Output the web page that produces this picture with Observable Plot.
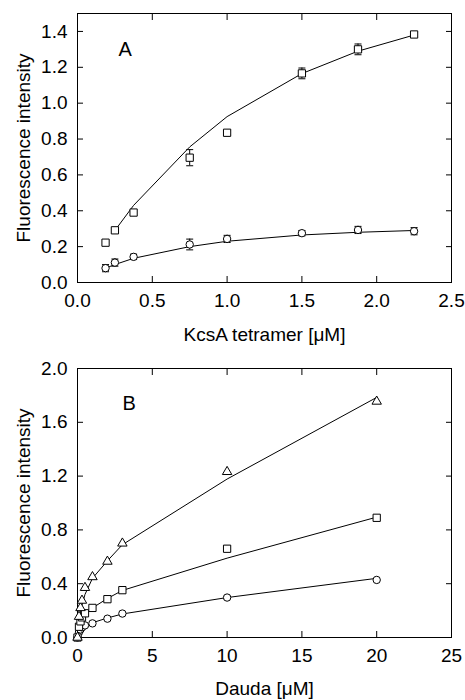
<!DOCTYPE html>
<html><head><meta charset="utf-8">
<script src="https://cdn.jsdelivr.net/npm/d3@7"></script>
<script src="https://cdn.jsdelivr.net/npm/@observablehq/plot@0.6"></script>
<style>body{margin:0;background:#fff;} svg{display:block}</style>
</head><body><div id="chart"></div>
<script>
// ---------- Panel A data ----------
const xA = [0.1875, 0.25, 0.375, 0.75, 1.0, 1.5, 1.875, 2.25];
const squaresA = [0.222, 0.291, 0.39, 0.696, 0.835, 1.166, 1.30, 1.383];
const squaresAErr = [0.0, 0.0, 0.0, 0.045, 0.012, 0.03, 0.03, 0.01];
const circlesA = [0.08, 0.111, 0.143, 0.212, 0.243, 0.275, 0.293, 0.286];
const circlesAErr = [0.02, 0.02, 0.015, 0.03, 0.02, 0.015, 0.02, 0.02];
const fitXSquaresA = [0.25, 0.375, 0.75, 1.0, 1.5, 1.875, 2.25];
const fitSquaresA = [0.29, 0.43, 0.756, 0.925, 1.165, 1.29, 1.38];
const fitCirclesA = [0.08, 0.10, 0.135, 0.20, 0.23, 0.265, 0.28, 0.29];
const xTicksA = [0, 0.5, 1.0, 1.5, 2.0, 2.5];
const yTicksA = [0, 0.2, 0.4, 0.6, 0.8, 1.0, 1.2, 1.4];

// ---------- Panel B data ----------
const xB = [0, 0.1, 0.2, 0.3, 0.5, 1, 2, 3, 10, 20];
const trianglesB = [0.0, 0.155, 0.22, 0.275, 0.37, 0.45, 0.565, 0.70, 1.232, 1.755];
const squaresB = [0.0, 0.08, 0.12, 0.15, 0.18, 0.22, 0.285, 0.352, 0.66, 0.89];
const squaresBErr = [0, 0, 0, 0, 0, 0, 0, 0, 0.02, 0];
const circlesB = [0.0, 0.04, 0.06, 0.075, 0.09, 0.105, 0.14, 0.178, 0.297, 0.428];
const circlesBErr = [0, 0, 0, 0, 0, 0, 0, 0, 0.01, 0];
const fitTrianglesB = [0.0, 0.12, 0.19, 0.24, 0.32, 0.44, 0.57, 0.69, 1.178, 1.785];
const fitSquaresB = [0.0, 0.07, 0.10, 0.13, 0.17, 0.22, 0.29, 0.35, 0.59, 0.895];
const fitCirclesB = [0.0, 0.03, 0.05, 0.065, 0.085, 0.11, 0.145, 0.175, 0.297, 0.44];
const xTicksB = [0, 5, 10, 15, 20, 25];
const yTicksB = [0, 0.4, 0.8, 1.2, 1.6, 2.0];

const FONT = "'Liberation Sans', Arial, Helvetica, sans-serif";
const FS = 19;
const capSymbol = {draw(ctx, size) { const w = Math.sqrt(size / Math.PI); ctx.moveTo(-w, 0); ctx.lineTo(w, 0); }};

const rows = (xs, ys, es) => xs.map((x, i) => ({x, y: ys[i], e: es ? es[i] : 0}));

function errMarks(data) {
  const d = data.filter(r => r.e > 0);
  return [
    Plot.ruleX(d, {x: "x", y1: r => r.y - r.e, y2: r => r.y + r.e, stroke: "black", strokeWidth: 1}),
    Plot.dot(d, {x: "x", y: r => r.y + r.e, symbol: capSymbol, r: 3.5, stroke: "black", strokeWidth: 1}),
    Plot.dot(d, {x: "x", y: r => r.y - r.e, symbol: capSymbol, r: 3.5, stroke: "black", strokeWidth: 1})
  ];
}

function panel({height, marginTop, marginBottom, xDomain, yDomain, xTicks, yTicks, xFmt, yFmt,
                xLabel, letter, letterDx, letterDy, xLabelDy, lines, errs, dots}) {
  return Plot.plot({
    width: 465, height, marginTop, marginBottom, marginLeft: 77, marginRight: 14,
    style: {fontFamily: FONT, fontSize: FS + "px", background: "white", color: "black", overflow: "visible"},
    x: {domain: xDomain}, y: {domain: yDomain},
    marks: [
      Plot.frame({stroke: "black", strokeWidth: 1}),
      // inward ticks on all four sides
      Plot.axisX(xTicks, {anchor: "bottom", tickSize: 6, dy: -6, text: null, label: null}),
      Plot.axisX(xTicks, {anchor: "top", tickSize: 6, dy: 6, text: null, label: null}),
      Plot.axisY(yTicks, {anchor: "left", tickSize: 6, dx: 6, text: null, label: null}),
      Plot.axisY(yTicks, {anchor: "right", tickSize: 6, dx: -6, text: null, label: null}),
      // tick labels
      Plot.axisX(xTicks, {anchor: "bottom", tickSize: 0, tickPadding: 11, tickFormat: xFmt, label: null, fontSize: FS}),
      Plot.axisY(yTicks, {anchor: "left", tickSize: 0, tickPadding: 10, tickFormat: yFmt, label: null, fontSize: FS}),
      // axis titles
      Plot.text([xLabel], {frameAnchor: "bottom", dy: xLabelDy, textAnchor: "middle", lineAnchor: "middle", fontSize: FS, text: d => d}),
      Plot.text(["Fluorescence intensity"], {frameAnchor: "left", dx: -54, rotate: -90, textAnchor: "middle", lineAnchor: "middle", fontSize: FS, text: d => d}),
      Plot.text([letter], {frameAnchor: "top-left", dx: letterDx, dy: letterDy, textAnchor: "start", lineAnchor: "middle", fontSize: 20, text: d => d}),
      // fit lines
      ...lines.map(l => Plot.line(l, {x: "x", y: "y", stroke: "black", strokeWidth: 1})),
      // error bars
      ...errs.flatMap(e => errMarks(e)),
      // markers
      ...dots.map(([d, sym, r]) => Plot.dot(d, {x: "x", y: "y", symbol: sym, r, fill: "white", stroke: "black", strokeWidth: 1}))
    ]
  });
}

const sqA = rows(xA, squaresA, squaresAErr);
const ciA = rows(xA, circlesA, circlesAErr);
const A = panel({
  height: 346, marginTop: 13, marginBottom: 64,
  xDomain: [0, 2.5], yDomain: [0, 1.5], xTicks: xTicksA, yTicks: yTicksA,
  xFmt: d3.format(".1f"), yFmt: d3.format(".1f"),
  xLabel: "KcsA tetramer [μM]", letter: "A", letterDx: 41, letterDy: 36, xLabelDy: 52,
  lines: [rows(fitXSquaresA, fitSquaresA), rows(xA, fitCirclesA)],
  errs: [sqA, ciA],
  dots: [[sqA, "square", 4.1], [ciA, "circle", 3.7]]
});

const trB = rows(xB, trianglesB);
const sqB = rows(xB, squaresB, squaresBErr);
const ciB = rows(xB, circlesB, circlesBErr);
const B = panel({
  height: 354, marginTop: 22, marginBottom: 63,
  xDomain: [0, 25], yDomain: [0, 2.0], xTicks: xTicksB, yTicks: yTicksB,
  xFmt: d3.format("d"), yFmt: d3.format(".1f"),
  xLabel: "Dauda [μM]", letter: "B", letterDx: 45, letterDy: 35, xLabelDy: 51,
  lines: [rows(xB, fitTrianglesB), rows(xB, fitSquaresB), rows(xB, fitCirclesB)],
  errs: [sqB, ciB],
  dots: [[ciB, "circle", 3.7], [sqB, "square", 4.1], [trB, "triangle", 3.5]]
});

document.getElementById("chart").append(A, B);
</script>
</body></html>
